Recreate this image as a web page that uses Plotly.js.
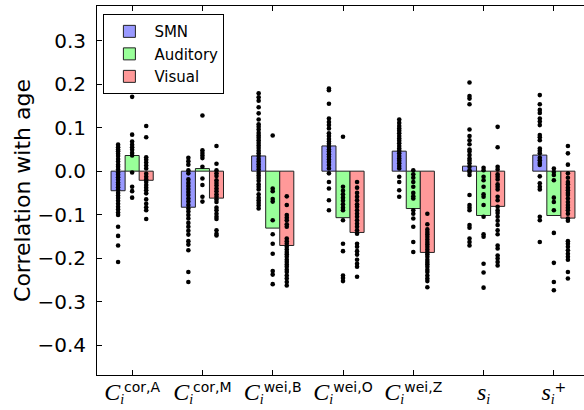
<!DOCTYPE html>
<html>
<head>
<meta charset="utf-8">
<script src="https://cdn.plot.ly/plotly-3.0.1.min.js"></script>
<style>
html, body { margin: 0; padding: 0; overflow: hidden; background: #fff; }
#chart { width: 592px; height: 410px; }
</style>
</head>
<body>
<div id="chart"></div>
<script>
// ---- Data ----
const labelBase = ['C', 'C', 'C', 'C', 'C', 's', 's'];
const labelSup  = ['cor,A', 'cor,M', 'wei,B', 'wei,O', 'wei,Z', '', '+'];
const groupNames = ['SMN', 'Auditory', 'Visual'];

const barSMN      = [-0.045, -0.083, 0.035, 0.058, 0.046, 0.0115, 0.037];
const barAuditory = [0.036, 0.006, -0.131, -0.107, -0.086, -0.102, -0.102];
const barVisual   = [-0.021, -0.062, -0.171, -0.141, -0.187, -0.081, -0.108];

const dotsSMN = [
  [0.061, 0.055, 0.050, 0.046, 0.040, 0.035, 0.028, 0.022, 0.015, 0.010, 0.004, -0.003, -0.008, -0.014, -0.020, -0.026, -0.031, -0.037, -0.043, -0.050, -0.056, -0.062, -0.068, -0.075, -0.082, -0.088, -0.095, -0.101, -0.128, -0.149, -0.171, -0.209],
  [0.031, 0.023, 0.015, 0.002, -0.005, -0.019, -0.027, -0.034, -0.041, -0.048, -0.055, -0.063, -0.070, -0.078, -0.086, -0.093, -0.101, -0.109, -0.119, -0.128, -0.137, -0.146, -0.161, -0.169, -0.182, -0.232, -0.255],
  [0.179, 0.170, 0.162, 0.147, 0.133, 0.119, 0.108, 0.102, 0.096, 0.088, 0.082, 0.077, 0.071, 0.065, 0.059, 0.053, 0.047, 0.041, 0.035, 0.028, 0.022, 0.016, 0.010, 0.004, -0.004, -0.010, -0.016, -0.022, -0.030, -0.036, -0.042, -0.053, -0.061, -0.067, -0.073, -0.079, -0.086],
  [0.190, 0.186, 0.155, 0.121, 0.113, 0.106, 0.098, 0.087, 0.081, 0.074, 0.068, 0.063, 0.056, 0.050, 0.045, 0.039, 0.033, 0.027, 0.021, 0.014, 0.006, -0.005, -0.025, -0.040, -0.067, -0.090],
  [0.119, 0.111, 0.104, 0.098, 0.093, 0.087, 0.081, 0.075, 0.070, 0.064, 0.058, 0.052, 0.047, 0.041, 0.035, 0.029, 0.024, 0.018, 0.012, 0.006, -0.013, -0.025, -0.044, -0.059],
  [0.204, 0.173, 0.167, 0.154, 0.096, 0.081, 0.071, 0.062, 0.050, 0.045, 0.037, 0.029, 0.024, 0.018, 0.010, 0.002, -0.002, -0.009, -0.055, -0.078, -0.084, -0.090, -0.124, -0.130, -0.155, -0.163, -0.171],
  [0.175, 0.154, 0.141, 0.134, 0.121, 0.114, 0.106, 0.083, 0.078, 0.071, 0.052, 0.047, 0.041, 0.031, 0.025, 0.019, 0.014, -0.012, -0.028, -0.036, -0.042, -0.105, -0.113, -0.163]
];
const dotsAuditory = [
  [0.171, 0.084, 0.068, 0.061, 0.055, 0.049, 0.042, 0.036, -0.003, -0.036, -0.046, -0.061],
  [0.128, 0.048, 0.042, 0.036, 0.030, 0.010, -0.017, -0.032, -0.059, -0.070],
  [0.082, -0.040, -0.046, -0.064, -0.070, -0.113, -0.145, -0.167, -0.190, -0.230, -0.238, -0.260],
  [0.079, -0.036, -0.045, -0.053, -0.061, -0.068, -0.076, -0.084, -0.090, -0.113, -0.167, -0.184, -0.240, -0.246, -0.253],
  [0.002, -0.007, -0.015, -0.025, -0.036, -0.050, -0.058, -0.063, -0.090, -0.098, -0.109, -0.128, -0.163, -0.186],
  [0.008, 0.002, -0.013, -0.021, -0.036, -0.053, -0.059, -0.078, -0.105, -0.145, -0.151, -0.213, -0.233, -0.268],
  [0.006, -0.002, -0.009, -0.021, -0.061, -0.071, -0.090, -0.142, -0.211, -0.255, -0.274]
];
const dotsVisual = [
  [0.104, 0.078, 0.032, 0.026, 0.020, 0.013, 0.006, -0.006, -0.013, -0.019, -0.025, -0.032, -0.038, -0.044, -0.051, -0.065, -0.075, -0.083, -0.090, -0.110],
  [0.058, 0.017, 0.002, -0.005, -0.011, -0.021, -0.027, -0.033, -0.040, -0.046, -0.053, -0.059, -0.065, -0.071, -0.084, -0.090, -0.098, -0.105, -0.110, -0.136, -0.144, -0.148],
  [-0.058, -0.078, -0.101, -0.107, -0.113, -0.122, -0.128, -0.155, -0.161, -0.167, -0.174, -0.180, -0.186, -0.191, -0.197, -0.204, -0.209, -0.215, -0.220, -0.227, -0.232, -0.240, -0.247, -0.255, -0.263],
  [-0.025, -0.038, -0.050, -0.059, -0.067, -0.076, -0.082, -0.090, -0.098, -0.105, -0.113, -0.121, -0.128, -0.136, -0.144, -0.167, -0.174, -0.184, -0.192, -0.204, -0.213, -0.220, -0.243],
  [-0.098, -0.122, -0.134, -0.140, -0.145, -0.151, -0.157, -0.163, -0.168, -0.174, -0.180, -0.186, -0.191, -0.197, -0.204, -0.209, -0.214, -0.220, -0.227, -0.232, -0.240, -0.247, -0.253, -0.267],
  [0.102, 0.055, 0.010, 0.004, -0.007, -0.013, -0.019, -0.030, -0.036, -0.042, -0.059, -0.067, -0.082, -0.090, -0.096, -0.105, -0.114, -0.124, -0.136, -0.145, -0.171, -0.178, -0.194, -0.201, -0.209, -0.217],
  [0.058, 0.041, 0.015, -0.005, -0.015, -0.025, -0.030, -0.038, -0.044, -0.050, -0.055, -0.063, -0.071, -0.078, -0.084, -0.090, -0.098, -0.109, -0.114, -0.161, -0.167, -0.174, -0.182, -0.190, -0.197, -0.204, -0.232, -0.247]
];
const yTicks = [-0.4, -0.3, -0.2, -0.1, 0.0, 0.1, 0.2, 0.3];

// ---- Build traces ----
const idx = labelBase.map((_, i) => i);
const barVals = [barSMN, barAuditory, barVisual];
const dotVals = [dotsSMN, dotsAuditory, dotsVisual];
const fills = ['#9999ff', '#99ff99', '#ff9999'];
const offsets = [-0.2, 0, 0.2];

const traces = [];
groupNames.forEach((name, g) => {
  traces.push({
    type: 'bar', name: name,
    x: idx.map(i => i + offsets[g]), y: barVals[g],
    width: 0.2,
    marker: { color: fills[g], line: { color: '#222', width: 1 } },
    showlegend: true
  });
});
groupNames.forEach((name, g) => {
  const xs = [], ys = [];
  dotVals[g].forEach((arr, i) => arr.forEach(v => { xs.push(i + offsets[g]); ys.push(v); }));
  traces.push({
    type: 'scatter', mode: 'markers', name: name + ' subjects',
    x: xs, y: ys,
    marker: { color: '#000', size: 4.6 },
    showlegend: false
  });
});

const serif = s => '<span style="font-family:Liberation Serif;font-size:24px"><i>' + s + '</i></span>';
const tickText = labelBase.map((b, i) =>
  serif(b) + '<sub><span style="font-family:Liberation Serif"><i>i</i></span></sub>' +
  (labelSup[i] ? '<sup>' + labelSup[i] + '</sup>' : ''));

const layout = {
  width: 592, height: 410,
  margin: { l: 97, r: 3, t: 6, b: 35 },
  paper_bgcolor: '#fff', plot_bgcolor: '#fff',
  font: { family: 'DejaVu Sans', color: '#000' },
  showlegend: true,
  bargap: 0, barmode: 'overlay',
  xaxis: {
    range: [-0.5, 6.5], tickvals: idx, ticktext: tickText,
    ticks: 'inside', ticklen: 5, tickcolor: '#000',
    showline: true, linecolor: '#000', linewidth: 1, mirror: 'ticks',
    showgrid: false, zeroline: false,
    tickfont: { size: 20, family: 'DejaVu Sans' }
  },
  yaxis: {
    range: [-0.469, 0.38], tickvals: yTicks, tickformat: '.1f',
    ticks: 'inside', ticklen: 5, tickcolor: '#000',
    showline: true, linecolor: '#000', linewidth: 1, mirror: 'ticks',
    showgrid: false, zeroline: false,
    tickfont: { size: 20, family: 'DejaVu Sans' },
    ticklabelstandoff: 6,
    title: { text: 'Correlation with age', font: { size: 22, family: 'DejaVu Sans' }, standoff: 0 }
  },
  legend: {
    x: 0.013, y: 0.978, xanchor: 'left', yanchor: 'top',
    bgcolor: '#fff', bordercolor: '#000', borderwidth: 1,
    font: { size: 15, family: 'DejaVu Sans' },
    itemwidth: 40, traceorder: 'normal'
  },
  hovermode: false
};

Plotly.newPlot('chart', traces, layout, { staticPlot: true, displayModeBar: false });
</script>
</body>
</html>
